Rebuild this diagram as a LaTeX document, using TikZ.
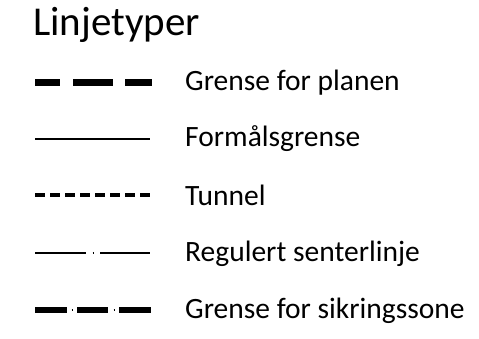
\documentclass[tikz,border=0pt]{standalone}
\usepackage{fontspec}
\setmainfont{Carlito}
\usetikzlibrary{positioning}

\begin{document}
\begin{tikzpicture}[x=1pt,y=-1pt,line cap=butt,
  legtext/.style={font=\fontsize{29.5}{34}\selectfont,anchor=base west,inner sep=0pt}]
\path[use as bounding box] (0,0) rectangle (479,339);
\node[font=\fontsize{41}{48}\selectfont,anchor=base west,inner sep=0pt] (title) at (33,36) {Linjetyper};
% Grense for planen
\node[legtext] (planen) at (185,91) {Grense for planen};
\draw[line width=7pt] (35,83)--(60,83) (73,83)--(113,83) (125,83)--(152,83);
% Formaalsgrense
\node[legtext] (formaal) at (185,147) {Formålsgrense};
\draw[line width=1.8pt] (35,139)--(150,139);
% Tunnel
\node[legtext] (tunnel) at (185,205) {Tunnel};
\draw[line width=4.2pt,dash pattern=on 10pt off 5pt] (35,195)--(150,195);
% Regulert senterlinje
\node[legtext] (senter) at (185,261) {Regulert senterlinje};
\draw[line width=1.2pt] (35,253)--(86,253) (100,253)--(150,253);
\draw[line width=2pt] (92.5,253)--(94,253);
% Grense for sikringssone
\node[legtext] (sikring) at (185,318) {Grense for sikringssone};
\draw[line width=5.5pt] (35,310)--(67,310) (77,310)--(108,310) (119,310)--(151,310);
\draw[line width=1.2pt] (71.5,310)--(72.7,310) (113.5,310)--(114.7,310);
\end{tikzpicture}
\end{document}
